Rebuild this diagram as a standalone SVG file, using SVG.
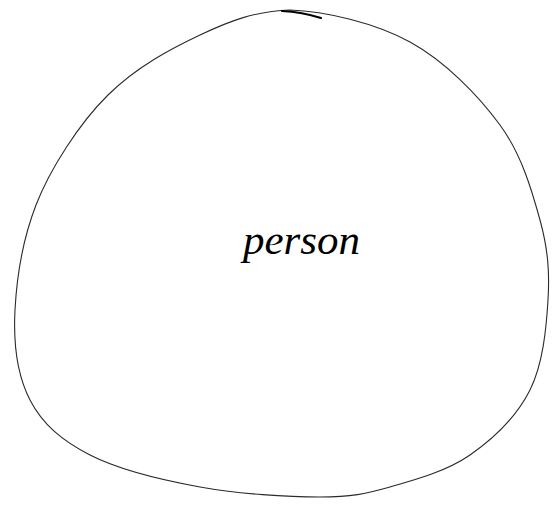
<svg xmlns="http://www.w3.org/2000/svg" width="556" height="508" viewBox="0 0 556 508">
<style>
.outline{fill:none;stroke:#2a2a2a;stroke-width:1.1;stroke-linecap:round;stroke-linejoin:round}
.label{font-family:"Liberation Serif",serif;font-style:italic;font-size:43px;fill:#000}
</style>
<rect width="556" height="508" fill="#fff"/>
<g id="person">
<path class="outline" d="M290,10 C325,11.2 375,22.8 410,42 C445,61.2 478.3,95.3 500,125 C521.7,154.7 532,190.8 540,220 C548,249.2 549.7,271.7 548,300 C546.3,328.3 543,364.2 530,390 C517,415.8 493.3,438.8 470,455 C446.7,471.2 415,480 390,487 C365,494 351.7,497 320,497 C288.3,497 238.3,494 200,487 C161.7,480 118.3,469.5 90,455 C61.7,440.5 42.5,424.2 30,400 C17.5,375.8 13.3,342.5 15,310 C16.7,277.5 22.2,240.8 36,205 C49.8,169.2 79.3,123.3 108,95 C136.7,66.7 170,49.2 200,35 C230,20.8 255,11.2 290,10 Z"/>
<path d="M282,11 Q302,12 321,18" fill="none" stroke="#000" stroke-width="2.2" stroke-linecap="round"/>
<text class="label" x="243" y="254">person</text>
</g>
</svg>
